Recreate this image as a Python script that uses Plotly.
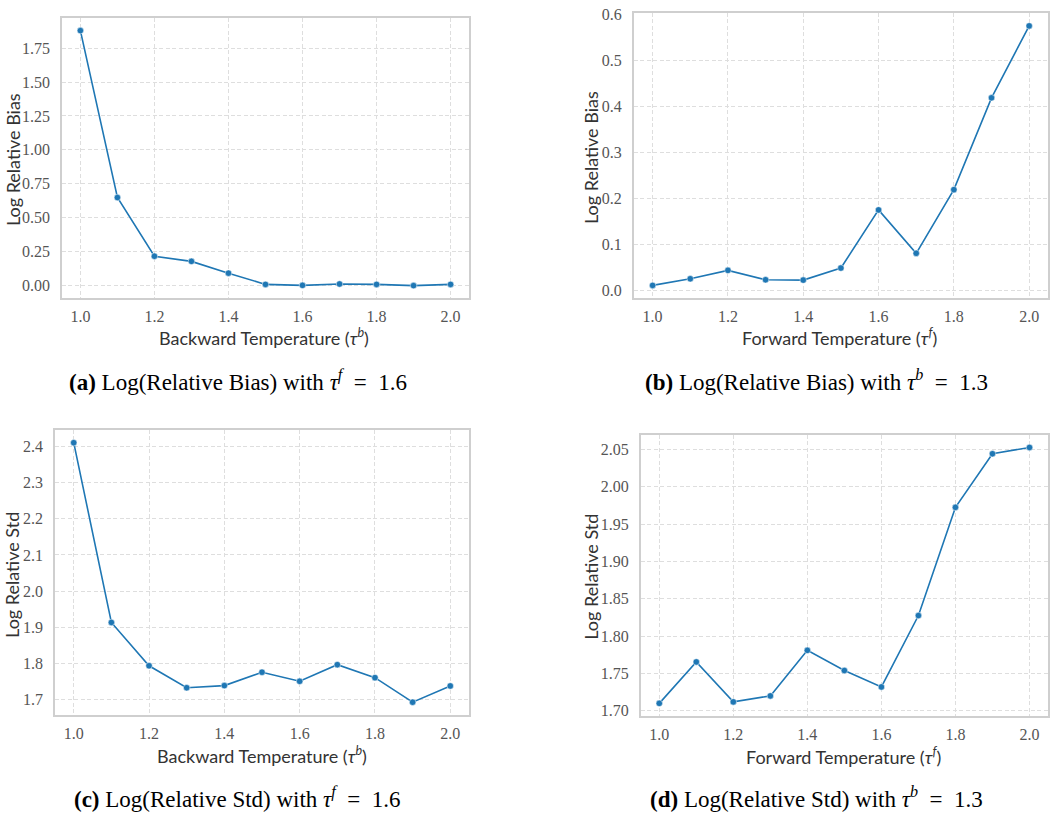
import plotly.graph_objects as go

temps = [1.0, 1.1, 1.2, 1.3, 1.4, 1.5, 1.6, 1.7, 1.8, 1.9, 2.0]

bias_backward = [1.880, 0.648, 0.215, 0.177, 0.090, 0.007, 0.000, 0.010, 0.007, -0.002, 0.007]
bias_forward = [0.0114, 0.0257, 0.044, 0.0236, 0.0229, 0.049, 0.175, 0.081, 0.219, 0.418, 0.574]
std_backward = [2.411, 1.913, 1.793, 1.732, 1.738, 1.775, 1.750, 1.796, 1.760, 1.692, 1.737]
std_forward = [1.710, 1.7655, 1.712, 1.720, 1.781, 1.754, 1.732, 1.8276, 1.9725, 2.0443, 2.0527]

x_ticks = [1.0, 1.2, 1.4, 1.6, 1.8, 2.0]
y_ticks_a = [0.0, 0.25, 0.5, 0.75, 1.0, 1.25, 1.5, 1.75]
y_ticks_b = [0.0, 0.1, 0.2, 0.3, 0.4, 0.5, 0.6]
y_ticks_c = [1.7, 1.8, 1.9, 2.0, 2.1, 2.2, 2.3, 2.4]
y_ticks_d = [1.70, 1.75, 1.80, 1.85, 1.90, 1.95, 2.00, 2.05]

x_title_back = "Backward Temperature (<i>τ</i><sup><i>b</i></sup>)"
x_title_fwd = "Forward Temperature (<i>τ</i><sup><i>f</i></sup>)"
y_title_bias = "Log Relative Bias"
y_title_std = "Log Relative Std"
captions = [
    "<b>(a)</b> Log(Relative Bias) with <i>τ</i><sup><i>f</i></sup>  =  1.6",
    "<b>(b)</b> Log(Relative Bias) with <i>τ</i><sup><i>b</i></sup>  =  1.3",
    "<b>(c)</b> Log(Relative Std) with <i>τ</i><sup><i>f</i></sup>  =  1.6",
    "<b>(d)</b> Log(Relative Std) with <i>τ</i><sup><i>b</i></sup>  =  1.3",
]

W, H = 1050, 813
BLUE = "#1f77b4"
SERIF = "Liberation Serif"
SANS = "Lato"


def px_x(p):
    return p / W


def px_y(p):
    return 1 - p / H


def pad_range(vals, frac=0.05):
    lo, hi = min(vals), max(vals)
    d = (hi - lo) * frac
    return [lo - d, hi + d]


panels = [
    # series, xdomain px, ydomain px, yticks, yfmt
    (bias_backward, (62, 470), (11, 295), y_ticks_a, ".2f"),
    (bias_forward, (635, 1050), (6, 295), y_ticks_b, ".1f"),
    (std_backward, (55, 470), (428, 717), y_ticks_c, ".1f"),
    (std_forward, (642, 1050), (433, 718), y_ticks_d, ".2f"),
]

fig = go.Figure()
layout = dict(
    width=W, height=H, margin=dict(l=0, r=0, t=0, b=0),
    paper_bgcolor="white", plot_bgcolor="white", showlegend=False,
)

for i, (vals, xd, yd, yt, yfmt) in enumerate(panels):
    n = "" if i == 0 else str(i + 1)
    fig.add_trace(go.Scatter(
        x=temps, y=vals, mode="lines+markers",
        line=dict(color=BLUE, width=1.6),
        marker=dict(color=BLUE, size=6.5, line=dict(color="white", width=0.5)),
        xaxis="x" + n, yaxis="y" + n,
    ))
    common = dict(
        showgrid=True, gridcolor="#dedede", griddash="4px,2.5px", gridwidth=1,
        showline=True, linecolor="#cfcfcf", linewidth=1.5, mirror=True,
        zeroline=False, ticks="", ticklabeloverflow="allow",
        tickfont=dict(family=SERIF, size=16, color="#555555"),
    )
    layout["xaxis" + n] = dict(
        common, domain=[px_x(xd[0]), px_x(xd[1])], anchor="y" + n,
        range=[0.95, 2.05], tickvals=x_ticks, tickformat=".1f",
        ticklabelstandoff=3,
    )
    layout["yaxis" + n] = dict(
        common, domain=[px_y(yd[1]), px_y(yd[0])], anchor="x" + n,
        range=pad_range(vals), tickvals=yt, tickformat=yfmt,
        ticklabelstandoff=7,
    )

annotations = []
# x-axis titles
for (x, y, t) in [(265, 334, x_title_back), (841, 334, x_title_fwd),
                  (262, 757, x_title_back), (845, 758, x_title_fwd)]:
    annotations.append(dict(x=px_x(x), y=px_y(y), xref="paper", yref="paper",
                            text=t, showarrow=False, xanchor="center", yanchor="middle",
                            font=dict(family=SANS, size=18, color="#333333")))
# y-axis titles
for (x, y, t) in [(13, 154, y_title_bias), (592, 152, y_title_bias),
                  (12, 575, y_title_std), (592, 577, y_title_std)]:
    annotations.append(dict(x=px_x(x), y=px_y(y), xref="paper", yref="paper",
                            text=t, showarrow=False, textangle=-90,
                            xanchor="center", yanchor="middle",
                            font=dict(family=SANS, size=18, color="#333333")))
# captions
for (x, y, t) in [(238, 378, captions[0]), (818, 378, captions[1]),
                  (238, 800, captions[2]), (818, 800, captions[3])]:
    annotations.append(dict(x=px_x(x), y=px_y(y), xref="paper", yref="paper",
                            text=t, showarrow=False, xanchor="center", yanchor="middle",
                            font=dict(family=SERIF, size=23, color="black")))

layout["annotations"] = annotations
fig.update_layout(**layout)
fig.write_html(
    "out.html",
    config={"displayModeBar": False},
    post_script="document.body.style.margin='0';document.body.style.overflow='hidden';",
)
